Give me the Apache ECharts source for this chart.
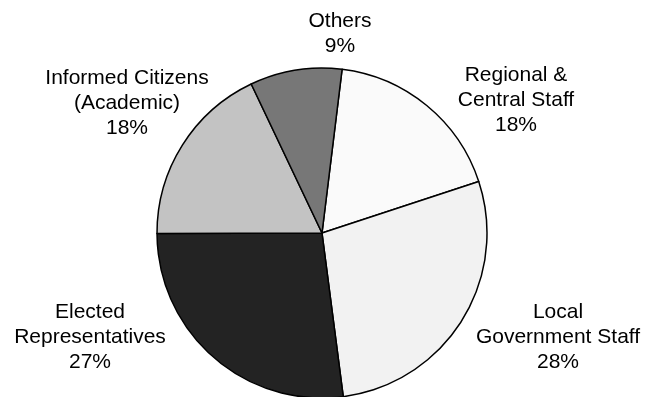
<!DOCTYPE html>
<html>
<head>
<meta charset="utf-8">
<style>
html,body{margin:0;padding:0;background:#fff;}
#chart{width:654px;height:397px;}
</style>
<script src="https://cdn.jsdelivr.net/npm/echarts@6/dist/echarts.min.js"></script>
</head>
<body>
<div id="chart"></div>
<script>
var categories = ['Regional &\nCentral Staff', 'Local\nGovernment Staff', 'Elected\nRepresentatives', 'Informed Citizens\n(Academic)', 'Others'];
var values = [18, 28, 27, 18, 9];
var sliceColors = ['#fafafa', '#f2f2f2', '#232323', '#c3c3c3', '#777777'];
var labelPositions = [[516, 100], [558, 337], [90, 337], [127, 103], [340, 34]];

var chart = echarts.init(document.getElementById('chart'));
chart.setOption({
  animation: false,
  backgroundColor: '#ffffff',
  series: [{
    type: 'pie',
    center: [322, 233],
    radius: 165,
    startAngle: 83,
    clockwise: true,
    silent: true,
    data: categories.map(function (c, i) {
      return { name: c, value: values[i], itemStyle: { color: sliceColors[i] } };
    }),
    itemStyle: { borderColor: '#000', borderWidth: 1.5 },
    label: {
      show: true,
      position: 'outside',
      formatter: function (p) { return p.name + '\n' + p.value + '%'; },
      fontFamily: 'Liberation Sans, Arial, sans-serif',
      fontSize: 21,
      lineHeight: 25,
      color: '#000',
      align: 'center',
      overflow: 'none',
      width: 300
    },
    labelLine: { show: false },
    labelLayout: function (params) {
      var p = labelPositions[params.dataIndex];
      return { x: p[0], y: p[1], align: 'center', verticalAlign: 'middle', hideOverlap: false };
    }
  }]
});
</script>
</body>
</html>
